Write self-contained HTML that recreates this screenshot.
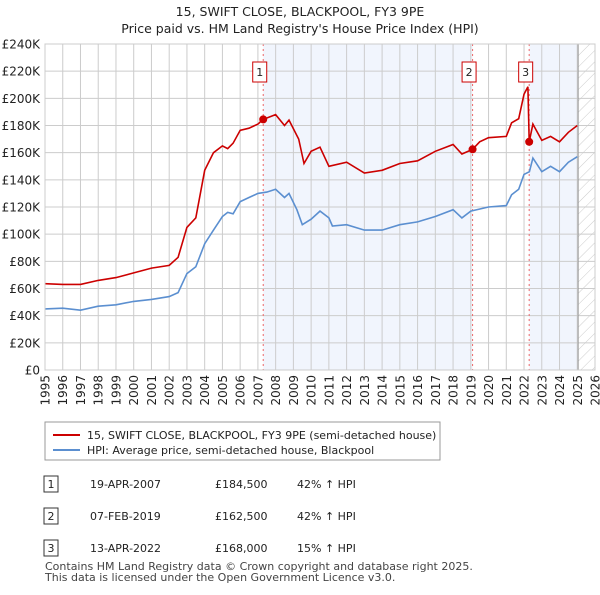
<!DOCTYPE html>
<html><head><meta charset="utf-8">
<style>
body{margin:0;background:#fff;font-family:"Liberation Sans","DejaVu Sans",sans-serif;}
svg text{font-family:"DejaVu Sans","Liberation Sans",sans-serif;}
</style></head>
<body>
<svg id="c" width="600" height="590" xmlns="http://www.w3.org/2000/svg">
<defs>
<pattern id="hatch" width="8" height="8" patternUnits="userSpaceOnUse" patternTransform="rotate(45)">
<line x1="0" y1="0" x2="0" y2="8" stroke="#ccc" stroke-width="1"/></pattern>
</defs>
<text x="300" y="16" text-anchor="middle" font-size="12.5" fill="#222">15, SWIFT CLOSE, BLACKPOOL, FY3 9PE</text>
<text x="300" y="33" text-anchor="middle" font-size="12.5" fill="#222">Price paid vs. HM Land Registry's House Price Index (HPI)</text>
<g id="plot"></g>
<g>
<rect x="45" y="422" width="395" height="38" fill="#fff" stroke="#999"/>
<line x1="53" y1="435" x2="80" y2="435" stroke="#cc0000" stroke-width="2"/>
<text x="87" y="439" font-size="11" fill="#222">15, SWIFT CLOSE, BLACKPOOL, FY3 9PE (semi-detached house)</text>
<line x1="53" y1="450" x2="80" y2="450" stroke="#5b8fd0" stroke-width="2"/>
<text x="87" y="454" font-size="11" fill="#222">HPI: Average price, semi-detached house, Blackpool</text>
</g>
<g font-size="11" fill="#222">
<rect x="44" y="476" width="14" height="16" fill="#fff" stroke="#333"/><text x="51" y="488" text-anchor="middle">1</text>
<text x="90" y="488">19-APR-2007</text><text x="215" y="488">£184,500</text><text x="297" y="488">42% ↑ HPI</text>
<rect x="44" y="508" width="14" height="16" fill="#fff" stroke="#333"/><text x="51" y="520" text-anchor="middle">2</text>
<text x="90" y="520">07-FEB-2019</text><text x="215" y="520">£162,500</text><text x="297" y="520">42% ↑ HPI</text>
<rect x="44" y="540" width="14" height="16" fill="#fff" stroke="#333"/><text x="51" y="552" text-anchor="middle">3</text>
<text x="90" y="552">13-APR-2022</text><text x="215" y="552">£168,000</text><text x="297" y="552">15% ↑ HPI</text>
</g>
<text x="45" y="570" font-size="11" fill="#444">Contains HM Land Registry data © Crown copyright and database right 2025.</text>
<text x="45" y="581" font-size="11" fill="#444">This data is licensed under the Open Government Licence v3.0.</text>
</svg>
<script>
const hpiYears=[1995,1996,1997,1998,1999,2000,2001,2002,2002.5,2003,2003.5,2004,2004.5,2005,2005.3,2005.6,2006,2006.5,2007,2007.5,2008,2008.5,2008.75,2009.2,2009.5,2010,2010.5,2011,2011.2,2012,2013,2014,2015,2016,2017,2018,2018.5,2019,2020,2021,2021.3,2021.7,2022,2022.3,2022.5,2023,2023.5,2024,2024.5,2025];
const hpiValues=[45,45.5,44,47,48,50.5,52,54,57,71,76,93,103,113,116,115,124,127,130,131,133,127,130,118,107,111,117,112,106,107,103,103,107,109,113,118,112,117,120,121,129,133,144,146,156,146,150,146,153,157];
const priceYears=[1995,1996,1997,1998,1999,2000,2001,2002,2002.5,2003,2003.5,2004,2004.5,2005,2005.3,2005.6,2006,2006.5,2007,2007.3,2008,2008.5,2008.75,2009.3,2009.6,2010,2010.5,2011,2012,2013,2014,2015,2016,2017,2018,2018.5,2019.1,2019.5,2020,2021,2021.3,2021.7,2022,2022.22,2022.29,2022.5,2023,2023.5,2024,2024.5,2025];
const priceValues=[63.5,63,63,66,68,71.5,75,77,83,105,112,147,160,165,163,167,176.5,178,181,184.5,188,180,184,170,152,161,164,150,153,145,147,152,154,161,166,159,162.5,168,171,172,182,185,203,208.5,168,181,169,172,168,175,180];
const saleYears=[2007.3,2019.1,2022.29];
const saleValues=[184.5,162.5,168];
const saleLabels=["1","2","3"];
const yTicks=[0,20,40,60,80,100,120,140,160,180,200,220,240];
const yTickLabels=["£0","£20K","£40K","£60K","£80K","£100K","£120K","£140K","£160K","£180K","£200K","£220K","£240K"];
const xTicks=[1995,1996,1997,1998,1999,2000,2001,2002,2003,2004,2005,2006,2007,2008,2009,2010,2011,2012,2013,2014,2015,2016,2017,2018,2019,2020,2021,2022,2023,2024,2025,2026];

const L=45,R=595,T=44,B=370,X0=1995,X1=2026,YMAX=240;
const sx=y=>L+(y-X0)/(X1-X0)*(R-L);
const sy=v=>B-v/YMAX*(B-T);
const NS="http://www.w3.org/2000/svg";
const g=document.getElementById('plot');
function mk(tag,attrs,parent){const e=document.createElementNS(NS,tag);for(const k in attrs)e.setAttribute(k,attrs[k]);(parent||g).appendChild(e);return e;}

let e;
e=mk('rect',{x:sx(saleYears[0]),y:T,width:sx(saleYears[1])-sx(saleYears[0]),height:B-T,fill:'#eef3fc',opacity:0.8});


e=mk('rect',{x:sx(saleYears[2]),y:T,width:sx(2025.05)-sx(saleYears[2]),height:B-T,fill:'#eef3fc',opacity:0.8});


e=mk('rect',{x:sx(2025.05),y:T,width:R-sx(2025.05),height:B-T,fill:'url(#hatch)'});



yTicks.forEach((v,i)=>{
  e=mk('line',{x1:L,x2:R,y1:sy(v),y2:sy(v),stroke:'#ccc','stroke-width':1});
  
  
  e=mk('text',{x:L-5,y:sy(v)+4.5,'text-anchor':'end','font-size':12,fill:'#222'});
  e.textContent=yTickLabels[i];
  
  
});
xTicks.forEach(y=>{
  e=mk('line',{x1:sx(y),x2:sx(y),y1:T,y2:B,stroke:'#ccc','stroke-width':1});
  
  
  e=mk('text',{x:0,y:0,'text-anchor':'end','font-size':12,fill:'#222',transform:`translate(${sx(y)+4.5},${B+5}) rotate(-90)`});
  e.textContent=y;
  
  
});
e=mk('line',{x1:sx(2025.05),x2:sx(2025.05),y1:T,y2:B,stroke:'#999','stroke-width':1});



saleYears.forEach((y,i)=>{
  e=mk('line',{x1:sx(y),x2:sx(y),y1:T,y2:B,stroke:'#e66','stroke-width':1,'stroke-dasharray':'2,3'});
  
  
});

function path(xs,vs){return xs.map((x,i)=>(i?'L':'M')+sx(x).toFixed(1)+','+sy(vs[i]).toFixed(1)).join('');}
e=mk('path',{d:path(hpiYears,hpiValues),fill:'none',stroke:'#5b8fd0','stroke-width':1.6});


e=mk('path',{d:path(priceYears,priceValues),fill:'none',stroke:'#cc0000','stroke-width':1.6});



saleYears.forEach((y,i)=>{
  e=mk('circle',{cx:sx(y),cy:sy(saleValues[i]),r:4,fill:'#cc0000'});
  
  
  const bx=sx(y)-3.5;
  e=mk('rect',{x:bx-7,y:62,width:14,height:20,fill:'#fff',stroke:'#cc0000'});
  
  
  e=mk('text',{x:bx,y:76,'text-anchor':'middle','font-size':11,fill:'#222'});
  e.textContent=saleLabels[i];
  
  
});
e=mk('rect',{x:L,y:T,width:R-L,height:B-T,fill:'none',stroke:'#ccc'});


</script>
</body></html>
